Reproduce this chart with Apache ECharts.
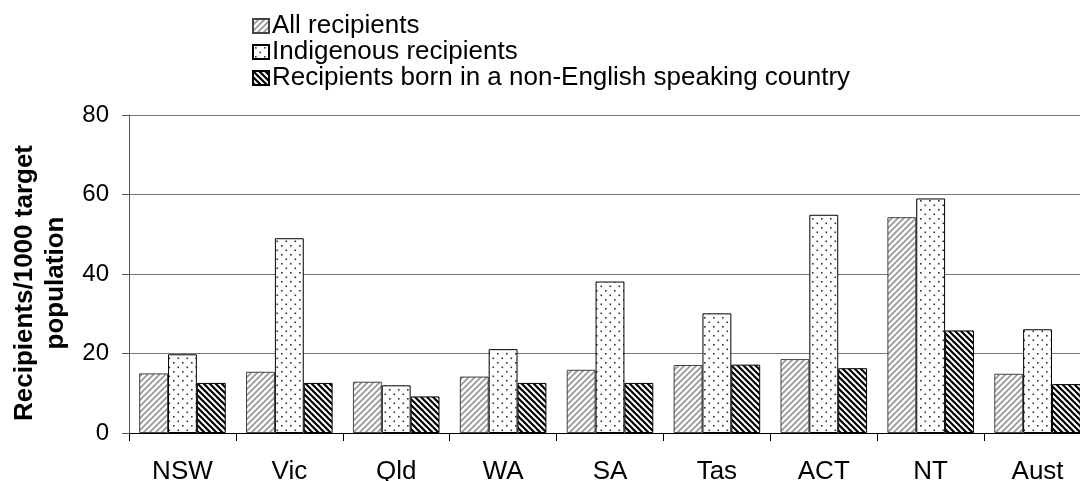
<!DOCTYPE html>
<html>
<head>
    <meta charset="utf-8" />
    <title>Recipients per 1000 target population</title>
    <script src="https://cdn.jsdelivr.net/npm/echarts@6/dist/echarts.min.js"></script>
    <style>
        html, body { margin: 0; padding: 0; background: #fff; }
    </style>
</head>
<body>
    <div id="main" style="width: 1080px;height:481px;"></div>

    <script type="text/javascript">
        // data
        var states = ['NSW', 'Vic', 'Qld', 'WA', 'SA', 'Tas', 'ACT', 'NT', 'Aust'];
        var allRecipients = [15.0, 15.4, 12.9, 14.2, 15.9, 17.1, 18.6, 54.3, 14.9];
        var indigenous = [19.8, 49.0, 12.0, 21.1, 38.1, 30.1, 54.9, 59.0, 26.1];
        var nesb = [12.6, 12.6, 9.2, 12.6, 12.6, 17.2, 16.3, 25.8, 12.3];
        var seriesNames = [
            'All recipients',
            'Indigenous recipients',
            'Recipients born in a non-English speaking country'
        ];
        var yTicks = [0, 20, 40, 60, 80];

        var FONT = 'Liberation Sans, Arial, sans-serif';

        // fill patterns (hatch / dots / dark hatch)
        function makePattern(kind) {
            var c = document.createElement('canvas');
            var s = kind === 'dots' ? 9 : 6;
            c.width = s; c.height = s;
            var ctx = c.getContext('2d');
            ctx.fillStyle = '#fff';
            ctx.fillRect(0, 0, s, s);
            if (kind === 'dots') {
                ctx.fillStyle = '#333';
                ctx.fillRect(2, 2, 1.6, 1.6);
                ctx.fillRect(6.5, 6.5, 1.6, 1.6);
            } else {
                ctx.strokeStyle = kind === 'light' ? '#999' : '#000';
                ctx.lineWidth = kind === 'light' ? 1.8 : 2.2;
                ctx.beginPath();
                if (kind === 'light') {
                    // "/" lines
                    ctx.moveTo(-1, s + 1); ctx.lineTo(s + 1, -1);
                    ctx.moveTo(-1, 1); ctx.lineTo(1, -1);
                    ctx.moveTo(s - 1, s + 1); ctx.lineTo(s + 1, s - 1);
                } else {
                    // "\" lines
                    ctx.moveTo(-1, -1); ctx.lineTo(s + 1, s + 1);
                    ctx.moveTo(s - 1, -1); ctx.lineTo(s + 1, 1);
                    ctx.moveTo(-1, s - 1); ctx.lineTo(1, s + 1);
                }
                ctx.stroke();
            }
            return { image: c, repeat: 'repeat' };
        }

        var myChart = echarts.init(document.getElementById('main'));

        var option = {
            backgroundColor: '#fff',
            animation: false,
            textStyle: { fontFamily: FONT, color: '#000' },
            legend: {
                orient: 'vertical',
                left: 247,
                top: 8,
                itemWidth: 16,
                itemHeight: 14,
                itemGap: 0,
                icon: 'rect',
                textStyle: { fontFamily: FONT, fontSize: 26, color: '#000', padding: [0, 0, 0, -2] },
                data: seriesNames
            },
            grid: {
                left: 129, right: -11, top: 115, bottom: 48,
                containLabel: false,
                outerBoundsMode: 'none'
            },
            xAxis: {
                type: 'category',
                data: states,
                axisLine: { lineStyle: { color: '#000', width: 1 } },
                axisTick: { show: true, length: 8, inside: false, lineStyle: { color: '#000' } },
                axisLabel: { fontFamily: FONT, fontSize: 26, color: '#000', margin: 26 }
            },
            yAxis: {
                type: 'value',
                min: yTicks[0],
                max: yTicks[yTicks.length - 1],
                interval: 20,
                name: 'Recipients/1000 target\npopulation',
                nameLocation: 'middle',
                nameRotate: 90,
                nameGap: 57,
                nameTextStyle: {
                    fontFamily: FONT, fontSize: 26, fontWeight: 'bold', color: '#000',
                    lineHeight: 31, padding: [0, 18, 0, 0]
                },
                axisLine: { show: true, lineStyle: { color: '#555', width: 1 } },
                axisTick: { show: true, length: 7, lineStyle: { color: '#555' } },
                axisLabel: { fontFamily: FONT, fontSize: 24, color: '#000', margin: 20 },
                splitLine: { lineStyle: { color: '#777', width: 1 } }
            },
            series: [
                {
                    name: seriesNames[0], type: 'bar', data: allRecipients,
                    barGap: '0%', barCategoryGap: '19%',
                    itemStyle: { color: makePattern('light'), borderColor: '#444', borderWidth: 1 }
                },
                {
                    name: seriesNames[1], type: 'bar', data: indigenous,
                    itemStyle: { color: makePattern('dots'), borderColor: '#000', borderWidth: 1 }
                },
                {
                    name: seriesNames[2], type: 'bar', data: nesb,
                    itemStyle: { color: makePattern('dark'), borderColor: '#000', borderWidth: 1 }
                }
            ]
        };

        myChart.setOption(option);
    </script>
</body>
</html>
